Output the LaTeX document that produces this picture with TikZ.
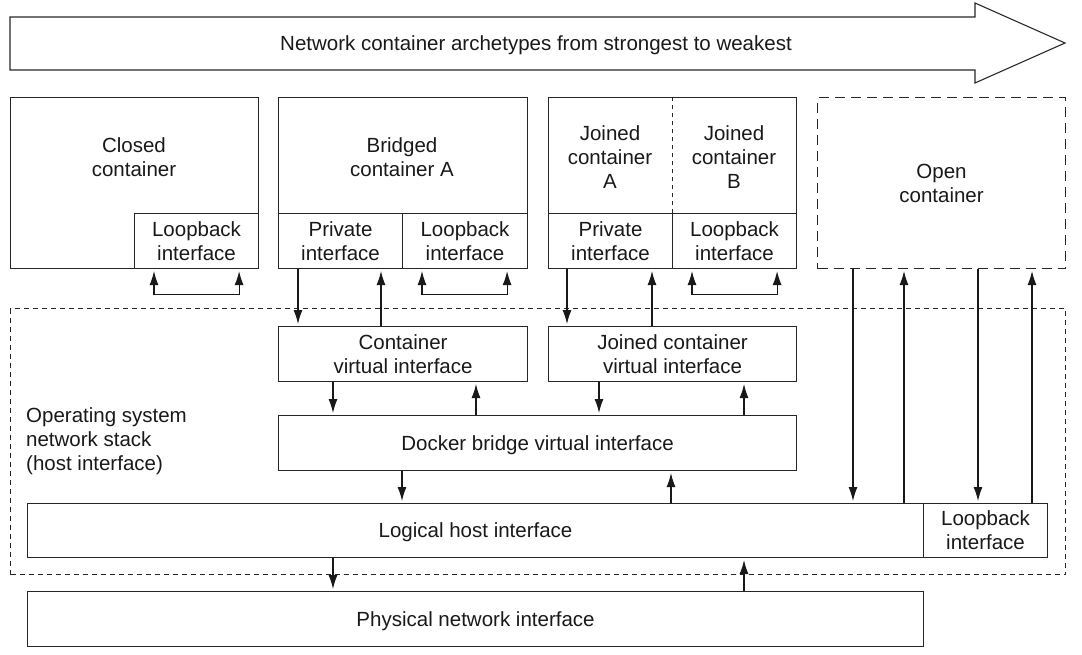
\documentclass[tikz,border=0pt]{standalone}
\usepackage{fontspec}
\setmainfont{Liberation Sans}
\usetikzlibrary{arrows.meta,calc}
\begin{document}
\begin{tikzpicture}[x=1pt,y=-1pt,
  fnt/.style={font=\fontsize{20.5}{24}\selectfont, text=black!90},
  box/.style={draw=black!85, line width=1.1pt, inner sep=0pt, anchor=north west, align=center, fnt},
  txt/.style={inner sep=0pt, align=center, fnt},
  oneline/.style={text depth=0pt},
  tip/.style={},
  arr/.style={-{Latex[length=14pt,width=9pt]}, shorten >=2pt, draw=black!90, line width=1.1pt},
  biarr/.style={{Latex[length=14pt,width=9pt]}-{Latex[length=14pt,width=9pt]}, shorten >=2pt, shorten <=2pt, draw=black!90, line width=1.1pt},
  opendash/.style={dash pattern=on 10pt off 6pt},
  osdash/.style={dash pattern=on 5pt off 4pt},
]
\useasboundingbox (0,0) rectangle (1082,655);

% banner arrow
\draw[draw=black!85, line width=1.1pt] (10,17) -- (975,17) -- (975,3) -- (1065,43) -- (975,83) -- (975,70) -- (10,70) -- cycle;
\node[txt, oneline] (banner) at (536,43) {Network container archetypes from strongest to weakest};

% closed container
\node[box, minimum width=248pt, minimum height=171pt] (closed) at (10,97) {};
\node[box, minimum width=124pt, minimum height=55pt] (lbC) at (134,213) {Loopback\\interface};
\node[txt] (closedT) at (134,157) {Closed\\container};

% bridged container
\node[box, minimum width=249pt, minimum height=171pt] (bridged) at (278,97) {};
\node[box, minimum width=124pt, minimum height=55pt] (privA) at (278,213) {Private\\interface};
\node[box, minimum width=125pt, minimum height=55pt] (lbA) at (402,213) {Loopback\\interface};
\node[txt] (bridgedT) at (402,157) {Bridged\\container A};

% joined containers
\node[box, minimum width=248pt, minimum height=171pt] (joined) at (548,97) {};
\node[box, minimum width=124pt, minimum height=55pt] (privJ) at (548,213) {Private\\interface};
\node[box, minimum width=124pt, minimum height=55pt] (lbJ) at (672,213) {Loopback\\interface};
\draw[draw=black!85, line width=0.9pt, dash pattern=on 4pt off 4pt] (lbJ.north west) -- (lbJ.north west |- joined.north);
\node[txt] (joinedAT) at (610,157) {Joined\\container\\A};
\node[txt] (joinedBT) at (734,157) {Joined\\container\\B};

% open container
\node[box, opendash, minimum width=248pt, minimum height=171pt] (open) at (817,97) {Open\\container};

% OS network stack
\node[box, osdash, minimum width=1055pt, minimum height=266pt] (os) at (10,308) {};
\node[txt, anchor=west, align=left] (osT) at (26,441) {Operating system\\network stack\\(host interface)};

\node[box, minimum width=249pt, minimum height=55pt] (cvi) at (278,326) {Container\\virtual interface};
\node[box, minimum width=248pt, minimum height=55pt] (jcvi) at (548,326) {Joined container\\virtual interface};
\node[box, oneline, minimum width=518pt, minimum height=55pt] (docker) at (278,415) {Docker bridge virtual interface};
\node[box, oneline, minimum width=896pt, minimum height=54pt] (logical) at (27,503) {Logical host interface};
\node[box, minimum width=124pt, minimum height=54pt] (lbH) at (923,503) {Loopback\\interface};
\node[box, oneline, minimum width=896pt, minimum height=55pt] (phys) at (27,591) {Physical network interface};

% loopback arrows
\draw[biarr] ($(lbC.south west)+(20,0)$) -- ++(0,25) -| ($(lbC.south east)+(-20,0)$);
\draw[biarr] ($(lbA.south west)+(20,0)$) -- ++(0,25) -| ($(lbA.south east)+(-21,0)$);
\draw[biarr] ($(lbJ.south west)+(20,0)$) -- ++(0,25) -| ($(lbJ.south east)+(-20,0)$);

% private <-> virtual interfaces
\draw[arr] ($(privA.south west)+(20,0)$) coordinate (a1) -- (a1 |- cvi.north);
\draw[arr] ($(cvi.north west)+(103,0)$) coordinate (a2) -- (a2 |- privA.south);
\draw[arr] ($(privJ.south west)+(19,0)$) coordinate (a3) -- (a3 |- jcvi.north);
\draw[arr] ($(jcvi.north west)+(104,0)$) coordinate (a4) -- (a4 |- privJ.south);

% virtual <-> docker bridge
\draw[arr] ($(cvi.south west)+(55,0)$) coordinate (b1) -- (b1 |- docker.north);
\draw[arr] ($(docker.north west)+(198,0)$) coordinate (b2) -- (b2 |- cvi.south);
\draw[arr] ($(jcvi.south west)+(51,0)$) coordinate (b3) -- (b3 |- docker.north);
\draw[arr] ($(docker.north west)+(466,0)$) coordinate (b4) -- (b4 |- jcvi.south);

% docker <-> logical
\draw[arr] ($(docker.south west)+(124,0)$) coordinate (c1) -- (c1 |- logical.north);
\draw[arr] ($(logical.north west)+(644,0)$) coordinate (c2) -- (c2 |- docker.south);

% open container <-> host
\draw[arr] ($(open.south west)+(36,0)$) coordinate (d1) -- (d1 |- logical.north);
\draw[arr] ($(logical.north west)+(877,0)$) coordinate (d2) -- (d2 |- open.south);
\draw[arr] ($(open.south west)+(161,0)$) coordinate (d3) -- (d3 |- lbH.north);
\draw[arr] ($(lbH.north west)+(109,0)$) coordinate (d4) -- (d4 |- open.south);

% logical <-> physical
\draw[arr] ($(logical.south west)+(306,0)$) coordinate (e1) -- (e1 |- phys.north);
\draw[arr] ($(phys.north west)+(717,0)$) coordinate (e2) -- (e2 |- logical.south);
\end{tikzpicture}
\end{document}
